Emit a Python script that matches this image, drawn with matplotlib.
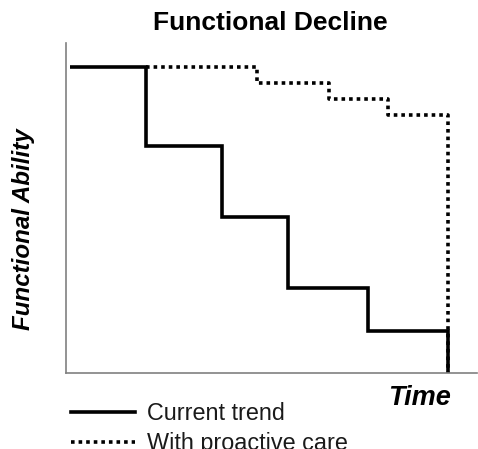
import matplotlib
matplotlib.use("Agg")
from matplotlib import pyplot as plt
from matplotlib.lines import Line2D

plt.rcParams['font.family'] = ['Liberation Sans', 'DejaVu Sans']

# step positions (time) and levels (functional ability)
t_current = [4, 80, 156, 222, 302, 382]
a_current = [306, 227, 156, 85, 42, 0]

t_proactive = [80, 191, 263, 322, 382]
a_proactive = [306, 290, 274, 258, 0]

W, H = 478, 449
fig = plt.figure(figsize=(W / 100, H / 100), dpi=100)
ax = fig.add_axes([66 / W, (H - 373) / H, (477 - 66) / W, (373 - 43) / H])

dots = (0, (1, 1.1))
ax.step(t_current, a_current, where='post', color='black', lw=2.6,
        solid_joinstyle='miter', solid_capstyle='butt')
ax.step(t_proactive, a_proactive, where='post', color='black', lw=2.6,
        linestyle=dots, dash_capstyle='butt')

ax.set_xlim(0, 411)
ax.set_ylim(0, 330)
ax.set_xticks([])
ax.set_yticks([])
for s in ['top', 'right']:
    ax.spines[s].set_visible(False)
for s in ['left', 'bottom']:
    ax.spines[s].set_color('#808080')
    ax.spines[s].set_linewidth(1.2)

fig.text(270 / W, 1 - 23 / H, 'Functional Decline', ha='center', va='center',
         fontsize=19, fontweight='bold')
fig.text(24 / W, 1 - 229 / H, 'Functional Ability', ha='center', va='center',
         rotation=90, fontsize=17.4, fontweight='bold', fontstyle='italic')
fig.text(420 / W, 1 - 398 / H, 'Time', ha='center', va='center',
         fontsize=19.5, fontweight='bold', fontstyle='italic')

handles = [Line2D([], [], color='black', lw=2.6),
           Line2D([], [], color='black', lw=2.6, linestyle=dots)]
labels = ['Current trend', 'With proactive care']
leg = fig.legend(handles, labels, loc='upper left',
                 bbox_to_anchor=(71 / W, 1 - 402 / H),
                 frameon=False, fontsize=16.8, handlelength=2.75, handletextpad=0.5,
                 labelspacing=0.3, borderpad=0, borderaxespad=0)
for txt in leg.get_texts():
    txt.set_color('#1a1a1a')

fig.savefig('out.png', dpi=100)
